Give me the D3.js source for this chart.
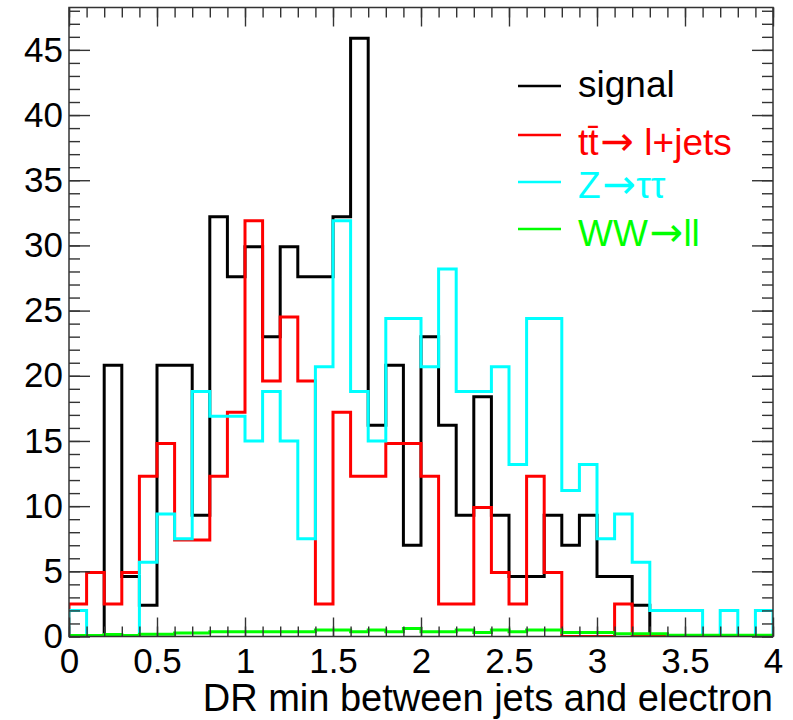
<!DOCTYPE html>
<html>
<head>
<meta charset="utf-8">
<script src="https://cdn.jsdelivr.net/npm/d3@7"></script>
<style>
  html, body { margin: 0; padding: 0; background: #fff; }
  svg { display: block; font-family: "Liberation Sans", Arial, Helvetica, sans-serif; }
  .tick line { stroke: #333; stroke-width: 1.4; }
  .tick text { fill: #000; font-size: 35px; }
  .arrow { font-family: "DejaVu Sans", sans-serif; }
</style>
</head>
<body>
<svg id="chart" width="793" height="720"></svg>
<script>
// 40 bins of 0.1 between 0 and 4
const xMin = 0, xMax = 4, nBins = 40;
const binEdges = d3.range(nBins + 1).map(i => xMin + i * (xMax - xMin) / nBins);

const signal = [0, 0, 20.8, 4.6, 2.4, 20.8, 20.8, 9.3, 32.2, 27.6,
  29.9, 23.0, 29.9, 27.6, 27.6, 32.2, 45.9, 16.2, 20.8, 7.0,
  23.0, 16.2, 9.3, 18.4, 9.3, 4.6, 4.6, 9.3, 7.0, 9.3,
  4.6, 4.6, 2.4, 0, 0, 0, 0, 0, 0, 0];
const ttbar = [2.5, 4.9, 2.5, 4.9, 12.3, 14.8, 7.4, 7.4, 12.3, 17.2,
  31.9, 19.6, 24.5, 19.6, 2.5, 17.2, 12.3, 12.3, 14.8, 14.8,
  12.3, 2.5, 2.5, 9.9, 4.9, 2.5, 12.3, 4.9, 0, 0,
  0, 2.5, 0, 0, 0, 0, 0, 0, 0, 0];
const ztautau = [2.0, 0, 0, 0, 5.7, 9.4, 7.5, 18.8, 16.9, 16.9,
  15.0, 18.8, 15.0, 7.5, 20.7, 31.9, 18.8, 15.0, 24.4, 24.4,
  20.7, 28.2, 18.8, 18.8, 20.7, 13.2, 24.4, 24.4, 11.2, 13.2,
  7.5, 9.4, 5.7, 2.0, 2.0, 2.0, 0, 2.0, 0, 2.0];
const wwll = [0.08, 0.08, 0.15, 0.08, 0.17, 0.17, 0.27, 0.27, 0.37, 0.37,
  0.37, 0.37, 0.37, 0.37, 0.5, 0.5, 0.37, 0.5, 0.37, 0.62,
  0.37, 0.37, 0.5, 0.3, 0.5, 0.37, 0.5, 0.5, 0.3, 0.3,
  0.3, 0.22, 0.22, 0.22, 0.1, 0.1, 0.1, 0.1, 0.1, 0.1];

// legend labels split as [before arrow, after arrow]
const seriesNames = [["signal", ""], ["tt\u0304", " l+jets"], ["Z", "\u03c4\u03c4"], ["WW", "ll"]];
const seriesColors = ["#000000", "#ff0000", "#00ffff", "#00ff00"];
const seriesValues = [signal, ttbar, ztautau, wwll];

const xMajor = d3.range(0, 4.001, 0.5);
const xMinor = d3.range(0, 4.001, 0.1);
const yMajor = d3.range(0, 46, 5);
const yMinor = d3.range(0, 49, 1);
const xTitle = "DR min between jets and electron";

const svg = d3.select("#chart");
const m = { l: 69, r: 773, t: 7.5, b: 636.5 };
const x = d3.scaleLinear().domain([xMin, xMax]).range([m.l, m.r]);
const y = d3.scaleLinear().domain([0, 48.25]).range([m.b, m.t]);

svg.append("clipPath").attr("id", "clip")
  .append("rect").attr("x", m.l).attr("y", m.t)
  .attr("width", m.r - m.l).attr("height", m.b - m.t);

// histogram outlines
const line = d3.line().x(d => x(d[0])).y(d => y(d[1]));
const stepPts = vals => {
  const pts = [[xMin, 0]];
  vals.forEach((v, i) => { pts.push([binEdges[i], v], [binEdges[i + 1], v]); });
  pts.push([xMax, 0]);
  return pts;
};
const hg = svg.append("g").attr("clip-path", "url(#clip)");
seriesValues.forEach((vals, i) => {
  hg.append("path").attr("d", line(stepPts(vals)))
    .attr("fill", "none").attr("stroke", seriesColors[i])
    .attr("stroke-width", 3).attr("stroke-linejoin", "miter");
});

// axes, ticks pointing inwards on all four sides
const axes = svg.append("g");
const clean = g => g.call(s => s.select(".domain").remove());
axes.append("g").attr("transform", `translate(0,${m.b})`)
  .call(d3.axisBottom(x).tickValues(xMinor).tickFormat("").tickSize(-10)).call(clean);
axes.append("g").attr("transform", `translate(0,${m.b})`)
  .call(d3.axisBottom(x).tickValues(xMajor).tickFormat(d3.format("~g")).tickSize(-19).tickPadding(12)).call(clean);
axes.append("g").attr("transform", `translate(0,${m.t})`)
  .call(d3.axisTop(x).tickValues(xMinor).tickFormat("").tickSize(-10)).call(clean);
axes.append("g").attr("transform", `translate(0,${m.t})`)
  .call(d3.axisTop(x).tickValues(xMajor).tickFormat("").tickSize(-19)).call(clean);
axes.append("g").attr("transform", `translate(${m.l},0)`)
  .call(d3.axisLeft(y).tickValues(yMinor).tickFormat("").tickSize(-11)).call(clean);
axes.append("g").attr("transform", `translate(${m.l},0)`)
  .call(d3.axisLeft(y).tickValues(yMajor).tickFormat(d3.format("d")).tickSize(-21).tickPadding(6)).call(clean);
axes.append("g").attr("transform", `translate(${m.r},0)`)
  .call(d3.axisRight(y).tickValues(yMinor).tickFormat("").tickSize(-11)).call(clean);
axes.append("g").attr("transform", `translate(${m.r},0)`)
  .call(d3.axisRight(y).tickValues(yMajor).tickFormat("").tickSize(-21)).call(clean);
axes.selectAll("text").attr("font-family", null);

svg.append("rect").attr("x", m.l).attr("y", m.t)
  .attr("width", m.r - m.l).attr("height", m.b - m.t)
  .attr("fill", "none").attr("stroke", "#333").attr("stroke-width", 1.5);

svg.append("text").attr("x", m.r).attr("y", 711)
  .attr("text-anchor", "end").attr("font-size", 38).text(xTitle);

// legend
const legY = [86, 135, 182, 229];
const legBase = [11, 20, 16, 17];
const leg = svg.append("g");
seriesNames.forEach((name, i) => {
  leg.append("line").attr("x1", 518).attr("x2", 561)
    .attr("y1", legY[i]).attr("y2", legY[i])
    .attr("stroke", seriesColors[i]).attr("stroke-width", 2.5);
  const t = leg.append("text").attr("x", 578).attr("y", legY[i] + legBase[i])
    .attr("font-size", 37).attr("fill", seriesColors[i]);
  t.append("tspan").text(name[0]);
  if (name[1]) {
    t.append("tspan").attr("class", "arrow").attr("font-size", 40).attr("dx", 2).text("\u2192");
    t.append("tspan").text(name[1]);
  }
});
</script>
</body>
</html>
